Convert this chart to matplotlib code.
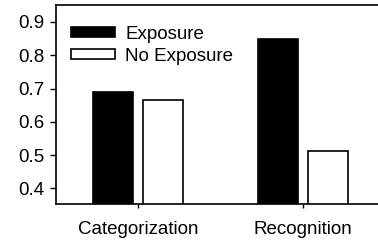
import numpy as np
import matplotlib.pyplot as plt

plt.rcParams["font.family"] = ["Liberation Sans", "DejaVu Sans"]

# ==========================================================
# DATA
# ==========================================================

tasks = ["Categorization", "Recognition"]
exposure = [0.69, 0.85]
no_exposure = [0.666, 0.513]
yticks = [0.4, 0.5, 0.6, 0.7, 0.8, 0.9]

# ==========================================================
# PLOT
# ==========================================================

fs = 13.5

fig = plt.figure(figsize=(3.78, 2.41), dpi=100)
ax = fig.add_axes([55.5 / 378, 1 - 204 / 241, 330 / 378, 199 / 241])

x = np.arange(len(tasks))
w = 0.245

ax.bar(x - 0.15, exposure, w, color="black", edgecolor="black",
       lw=1.2, label="Exposure")
ax.bar(x + 0.15, no_exposure, w, color="white", edgecolor="black",
       lw=1.2, label="No Exposure")

ax.set_xlim(-0.5, 1.5)
ax.set_ylim(0.353, 0.951)

ax.set_yticks(yticks)
ax.set_yticklabels(["%.1f" % v for v in yticks], fontsize=fs)
ax.set_xticks(x)
ax.set_xticklabels(tasks, fontsize=fs)

ax.tick_params(axis="y", direction="out", length=4, width=1, pad=4)
ax.tick_params(axis="x", direction="out", length=3, width=1, pad=9)

for s in ax.spines.values():
    s.set_linewidth(1.2)

ax.legend(loc="upper left", frameon=False, fontsize=fs,
          handlelength=2.35, handleheight=0.43, handletextpad=0.57,
          labelspacing=0.25, borderaxespad=0.0, borderpad=0.0,
          bbox_to_anchor=(15 / 330, 1 - 21 / 199))

fig.savefig("out.png", dpi=100)
